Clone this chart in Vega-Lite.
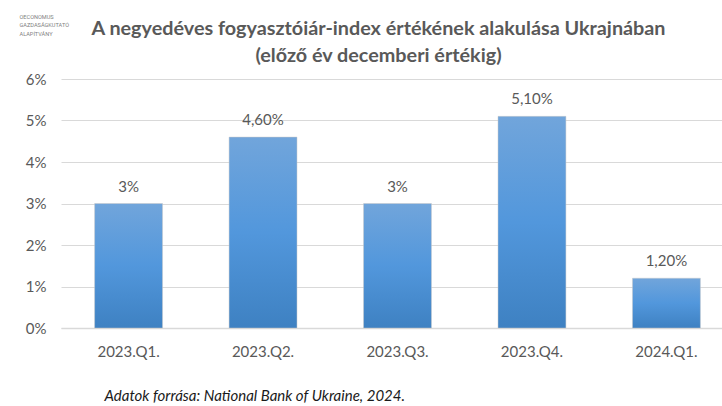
{
  "$schema": "https://vega.github.io/schema/vega-lite/v6.json",
  "description": "A negyedéves fogyasztóiár-index alakulása Ukrajnában",
  "width": 661,
  "height": 249,
  "autosize": "none",
  "padding": {"left": 61, "top": 79, "right": 0, "bottom": 78},
  "background": "white",
  "title": {
    "text": ["A negyedéves fogyasztóiár-index értékének alakulása Ukrajnában", "(előző év decemberi értékig)"],
    "font": "Lato", "fontSize": 19.8, "fontWeight": "bold", "color": "#595959",
    "anchor": "middle", "lineHeight": 27, "offset": 9, "dx": -13, "dy": 61
  },
  "data": {"values": [
    {"negyedev": "2023.Q1.", "ertek": 3, "cimke": "3%"},
    {"negyedev": "2023.Q2.", "ertek": 4.6, "cimke": "4,60%"},
    {"negyedev": "2023.Q3.", "ertek": 3, "cimke": "3%"},
    {"negyedev": "2023.Q4.", "ertek": 5.1, "cimke": "5,10%"},
    {"negyedev": "2024.Q1.", "ertek": 1.2, "cimke": "1,20%"}
  ]},
  "encoding": {
    "x": {
      "field": "negyedev", "type": "ordinal", "sort": null,
      "scale": {"range": [0, 673], "paddingInner": 0.495, "paddingOuter": 0.25},
      "axis": {
        "labelAngle": 0, "labelFont": "Lato", "labelFontSize": 15, "labelColor": "#595959", "labelPadding": 16,
        "domainColor": "#d9d9d9", "domainWidth": 1.5, "ticks": false,
        "title": "Adatok forrása: National Bank of Ukraine, 2024.",
        "titleFont": "Lato", "titleFontSize": 15, "titleFontStyle": "italic", "titleFontWeight": "normal", "titleColor": "#1a1a1a",
        "titleAnchor": "start", "titleAlign": "left", "titleX": 43, "titleY": 60
      }
    }
  },
  "layer": [
    {
      "mark": {"type": "bar", "stroke": "#c8c8c8", "strokeWidth": 0.6, "strokeOpacity": 0.8,
        "color": {"gradient": "linear", "x1": 0, "y1": 0, "x2": 0, "y2": 1,
          "stops": [{"offset": 0, "color": "#71a5db"}, {"offset": 0.5, "color": "#5297dc"}, {"offset": 1, "color": "#3e81c2"}]}},
      "encoding": {
        "y": {
          "field": "ertek", "type": "quantitative",
          "scale": {"domain": [0, 6]},
          "axis": {
            "values": [0, 1, 2, 3, 4, 5, 6], "labelExpr": "datum.value + '%'",
            "labelFont": "Lato", "labelFontSize": 15, "labelColor": "#595959", "labelPadding": 15,
            "grid": true, "gridColor": "#d9d9d9", "gridWidth": 1.2,
            "domain": false, "ticks": false,
            "title": ["OECONOMUS", "GAZDASÁGKUTATÓ", "ALAPÍTVÁNY"],
            "titleFont": "Roboto", "titleFontSize": 5.6, "titleFontWeight": "normal", "titleColor": "#7f7f7f",
            "titleAngle": 0, "titleAlign": "left", "titleBaseline": "top", "titleLineHeight": 8.5,
            "titleX": -42, "titleY": -65
          }
        }
      }
    },
    {
      "mark": {"type": "text", "baseline": "bottom", "dy": -9, "font": "Lato", "fontSize": 15, "color": "#595959"},
      "encoding": {
        "y": {"field": "ertek", "type": "quantitative"},
        "text": {"field": "cimke"}
      }
    }
  ],
  "config": {"view": {"stroke": null}}
}
